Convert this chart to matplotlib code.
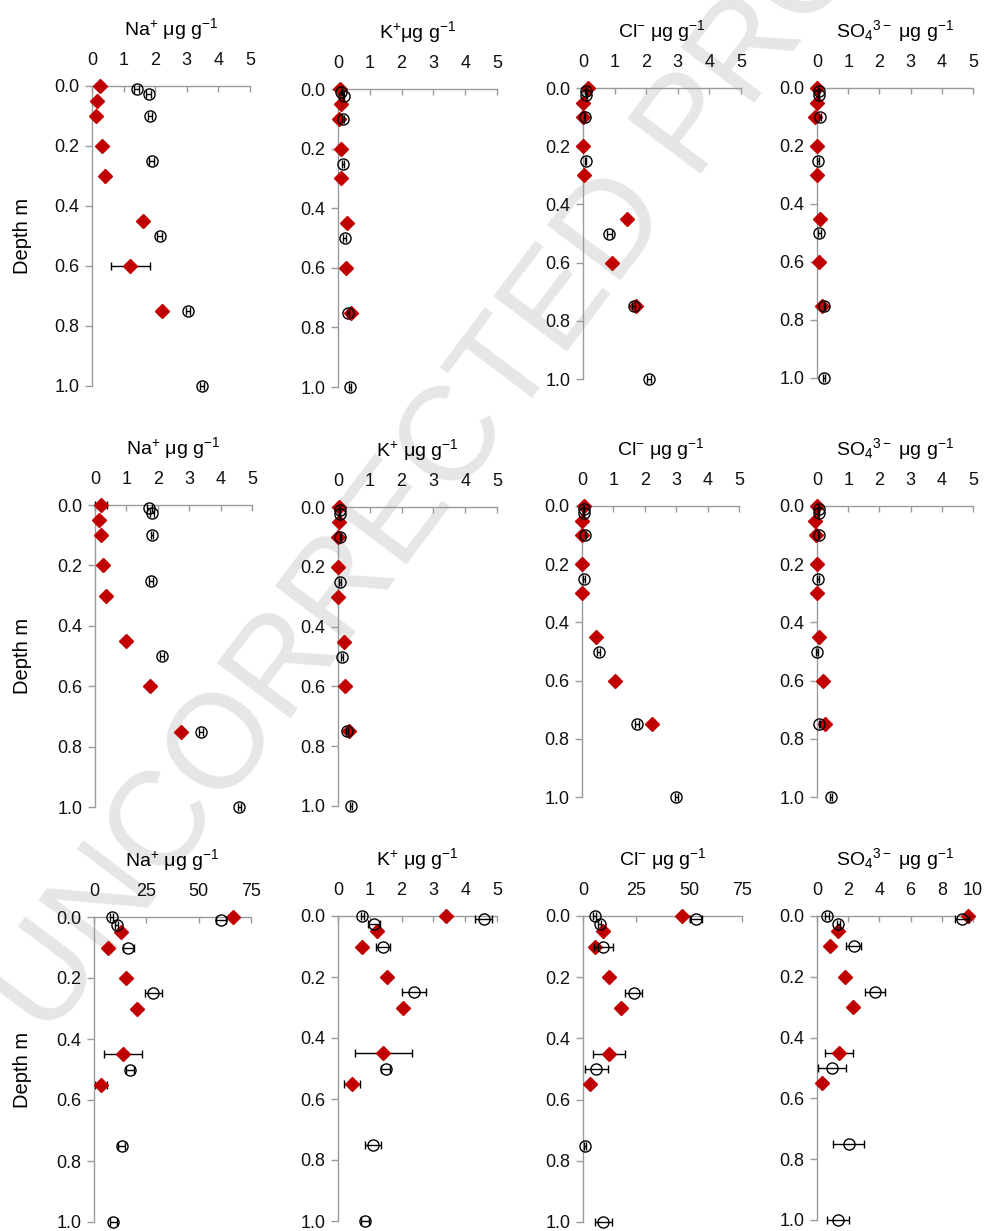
import matplotlib
matplotlib.use('Agg')
import matplotlib.pyplot as plt
from matplotlib.ticker import FormatStrFormatter

plt.rcParams['font.family'] = ['Liberation Sans', 'DejaVu Sans']
plt.rcParams['mathtext.fontset'] = 'custom'
plt.rcParams['mathtext.rm'] = 'Liberation Sans'
plt.rcParams['mathtext.it'] = 'Liberation Sans:italic'
plt.rcParams['mathtext.bf'] = 'Liberation Sans:bold'

# depths (m)
depth_d12 = [0.0, 0.05, 0.1, 0.2, 0.3, 0.45, 0.6, 0.75]
depth_c12 = [0.01, 0.025, 0.1, 0.25, 0.5, 0.75, 1.0]
depth_d3 = [0.0, 0.05, 0.1, 0.2, 0.3, 0.45, 0.55]
depth_c3 = [0.0, 0.01, 0.025, 0.1, 0.25, 0.5, 0.75, 1.0]

# row 1
na1_d = [0.25, 0.16, 0.14, 0.32, 0.42, 1.6, 1.21, 2.23]
na1_de = [0, 0, 0, 0, 0, 0, 0.62, 0]
na1_c = [1.42, 1.79, 1.84, 1.89, 2.14, 3.03, 3.49]
na1_ce = [0.08, 0.08, 0.06, 0.08, 0.08, 0.07, 0.07]
k1_d = [0.05, 0.1, 0.03, 0.1, 0.1, 0.28, 0.24, 0.42]
k1_de = [0, 0, 0, 0, 0, 0, 0, 0]
k1_c = [0.1, 0.18, 0.16, 0.16, 0.21, 0.32, 0.39]
k1_ce = [0.02, 0.02, 0.02, 0.03, 0.04, 0.03, 0.03]
cl1_d = [0.16, 0.0, 0.0, 0.0, 0.03, 1.38, 0.93, 1.69]
cl1_de = [0, 0, 0, 0, 0, 0, 0, 0]
cl1_c = [0.08, 0.1, 0.05, 0.08, 0.83, 1.61, 2.09]
cl1_ce = [0.02, 0.02, 0.02, 0.03, 0.08, 0.05, 0.05]
so1_d = [0.0, 0.0, -0.08, 0.0, 0.0, 0.1, 0.05, 0.16]
so1_de = [0, 0, 0, 0, 0, 0, 0, 0]
so1_c = [0.05, 0.05, 0.1, 0.03, 0.08, 0.24, 0.23]
so1_ce = [0.02, 0.02, 0.02, 0.03, 0.05, 0.03, 0.03]

# row 2
na2_d = [0.19, 0.14, 0.19, 0.26, 0.35, 1.0, 1.75, 2.75]
na2_de = [0.2, 0, 0, 0, 0, 0, 0, 0]
na2_c = [1.73, 1.82, 1.82, 1.78, 2.14, 3.37, 4.6]
na2_ce = [0.07, 0.07, 0.04, 0.07, 0.07, 0.07, 0.05]
k2_d = [0.03, 0.03, 0.0, 0.0, 0.0, 0.19, 0.23, 0.35]
k2_de = [0, 0, 0, 0, 0, 0, 0, 0]
k2_c = [0.05, 0.05, 0.07, 0.05, 0.13, 0.29, 0.42]
k2_ce = [0.02, 0.02, 0.02, 0.03, 0.03, 0.03, 0.03]
cl2_d = [0.05, 0.0, 0.0, 0.0, 0.0, 0.44, 1.06, 2.22]
cl2_de = [0, 0, 0, 0, 0, 0, 0, 0]
cl2_c = [0.05, 0.05, 0.1, 0.05, 0.53, 1.74, 3.0]
cl2_ce = [0.02, 0.02, 0.02, 0.03, 0.05, 0.06, 0.05]
so2_d = [0.0, -0.05, -0.03, 0.0, 0.0, 0.05, 0.18, 0.27]
so2_de = [0, 0, 0, 0, 0, 0, 0, 0]
so2_c = [0.05, 0.05, 0.05, 0.03, 0.0, 0.08, 0.45]
so2_ce = [0.02, 0.02, 0.02, 0.04, 0.02, 0.03, 0.04]

# row 3
na3_d = [66.2, 12.9, 6.9, 15.3, 20.4, 14.0, 3.3]
na3_de = [0, 0, 0, 0, 0, 9.0, 2.7]
na3_c = [8.5, 60.6, 10.8, 16.4, 28.4, 17.2, 13.2, 9.3]
na3_ce = [0.8, 2.5, 0.8, 2.7, 4.2, 1.8, 1.8, 1.5]
k3_d = [3.4, 1.23, 0.74, 1.53, 2.05, 1.42, 0.44]
k3_de = [0, 0, 0, 0, 0, 0.9, 0.26]
k3_c = [0.76, 4.58, 1.13, 1.42, 2.39, 1.5, 1.1, 0.84]
k3_ce = [0.05, 0.27, 0.18, 0.22, 0.38, 0.15, 0.24, 0.12]
cl3_d = [46.6, 9.5, 5.5, 12.3, 17.7, 12.2, 3.5]
cl3_de = [0, 0, 0, 0, 0, 7.7, 0.8]
cl3_c = [5.5, 53.2, 7.9, 9.5, 24.0, 6.3, 0.8, 9.5]
cl3_ce = [0.8, 2.8, 0.8, 4.5, 4.0, 5.5, 0.5, 4.0]
so3_d = [9.68, 1.35, 0.85, 1.77, 2.3, 1.41, 0.34]
so3_de = [0, 0, 0, 0, 0, 0.9, 0.1]
so3_c = [0.64, 9.32, 1.35, 2.35, 3.7, 0.96, 2.03, 1.35]
so3_ce = [0.1, 0.45, 0.1, 0.48, 0.64, 0.87, 1.0, 0.7]

t_na = r'Na$^{+}$ μg g$^{-1}$'
t_k1 = r'K$^{+}$μg g$^{-1}$'
t_k = r'K$^{+}$ μg g$^{-1}$'
t_cl = r'Cl$^{-}$ μg g$^{-1}$'
t_so = r'SO$_{4}{}^{3-}$ μg g$^{-1}$'

ticks5 = [0, 1, 2, 3, 4, 5]
ticks75 = [0, 25, 50, 75]
ticks10 = [0, 2, 4, 6, 8, 10]

RED = '#c00000'
GREY = '#9a9a9a'
W, H = 988.0, 1231.0

fig = plt.figure(figsize=(9.88, 12.31), dpi=100)

# watermark behind everything
fig.text(48 / W, 1 - 1040 / H, 'UNCORRECTED PROOF', rotation=53,
         rotation_mode='anchor', ha='left', va='baseline', fontsize=96,
         color='#e6e6e6', zorder=-5)


def draw_panel(box, title, xmax, xticks, d_dep, d_x, d_err, c_dep, c_x, c_err, ylab):
    x0, x1, ytop, ybot = box
    ax = fig.add_axes([x0 / W, 1 - ybot / H, (x1 - x0) / W, (ybot - ytop) / H])
    ax.set_facecolor('none')

    # error bars of diamonds only where there is one
    ex = [x for x, e in zip(d_x, d_err) if e > 0]
    ey = [y for y, e in zip(d_dep, d_err) if e > 0]
    ee = [e for e in d_err if e > 0]
    parts = []
    if ee:
        c = ax.errorbar(ex, ey, xerr=ee, fmt='none', ecolor='black',
                        elinewidth=1.0, capsize=3.2, capthick=1.0, zorder=2)
        parts.append(c)
    ax.plot(d_x, d_dep, 'D', ms=7.5, mfc=RED, mec=RED, zorder=3, clip_on=False)
    c = ax.errorbar(c_x, c_dep, xerr=c_err, fmt='o', ms=8, mfc='none', mec='black',
                    mew=1.0, ecolor='black', elinewidth=1.0, capsize=3.2,
                    capthick=1.0, zorder=4)
    parts.append(c)
    for cont in parts:
        for art in cont.get_children():
            art.set_clip_on(False)

    ax.set_xlim(0, xmax)
    ax.set_ylim(1.0, 0.0)
    ax.spines['bottom'].set_visible(False)
    ax.spines['right'].set_visible(False)
    for s in ('top', 'left'):
        ax.spines[s].set_color(GREY)
        ax.spines[s].set_linewidth(1.0)
    ax.xaxis.tick_top()
    ax.set_xticks(xticks)
    ax.set_yticks([0.0, 0.2, 0.4, 0.6, 0.8, 1.0])
    ax.yaxis.set_major_formatter(FormatStrFormatter('%.1f'))
    ax.tick_params(axis='x', direction='in', length=4, width=1.0, pad=12,
                   color=GREY, labelcolor='#111111', labelsize=13)
    ax.tick_params(axis='y', direction='out', length=5, width=1.0, pad=4,
                   color=GREY, labelcolor='#111111', labelsize=13)
    ax.annotate(title, xy=(0.5, 1), xycoords='axes fraction', xytext=(0, 37),
                textcoords='offset points', ha='center', va='baseline', fontsize=14)
    if ylab:
        fig.text(23 / W, 1 - (ytop + ybot) / 2 / H, 'Depth m', rotation=90,
                 ha='center', va='center', fontsize=14.5)
    return ax


# row 1
draw_panel((92, 250, 86, 386), t_na, 5, ticks5, depth_d12, na1_d, na1_de, depth_c12, na1_c, na1_ce, True)
draw_panel((338, 497, 89, 387), t_k1, 5, ticks5, depth_d12, k1_d, k1_de, depth_c12, k1_c, k1_ce, False)
draw_panel((583, 741, 88, 379), t_cl, 5, ticks5, depth_d12, cl1_d, cl1_de, depth_c12, cl1_c, cl1_ce, False)
draw_panel((817, 973, 88, 378), t_so, 5, ticks5, depth_d12, so1_d, so1_de, depth_c12, so1_c, so1_ce, False)

# row 2
draw_panel((95, 252, 505, 807), t_na, 5, ticks5, depth_d12, na2_d, na2_de, depth_c12, na2_c, na2_ce, True)
draw_panel((338, 497, 507, 806), t_k, 5, ticks5, depth_d12, k2_d, k2_de, depth_c12, k2_c, k2_ce, False)
draw_panel((582, 739, 506, 797), t_cl, 5, ticks5, depth_d12, cl2_d, cl2_de, depth_c12, cl2_c, cl2_ce, False)
draw_panel((817, 973, 506, 797), t_so, 5, ticks5, depth_d12, so2_d, so2_de, depth_c12, so2_c, so2_ce, False)

# row 3
draw_panel((94, 251, 917, 1222), t_na, 75, ticks75, depth_d3, na3_d, na3_de, depth_c3, na3_c, na3_ce, True)
draw_panel((338, 497, 916, 1221), t_k, 5, ticks5, depth_d3, k3_d, k3_de, depth_c3, k3_c, k3_ce, False)
draw_panel((583, 742, 916, 1222), t_cl, 75, ticks75, depth_d3, cl3_d, cl3_de, depth_c3, cl3_c, cl3_ce, False)
draw_panel((817, 973, 916, 1220), t_so, 10, ticks10, depth_d3, so3_d, so3_de, depth_c3, so3_c, so3_ce, False)

fig.savefig('out.png', dpi=100)
